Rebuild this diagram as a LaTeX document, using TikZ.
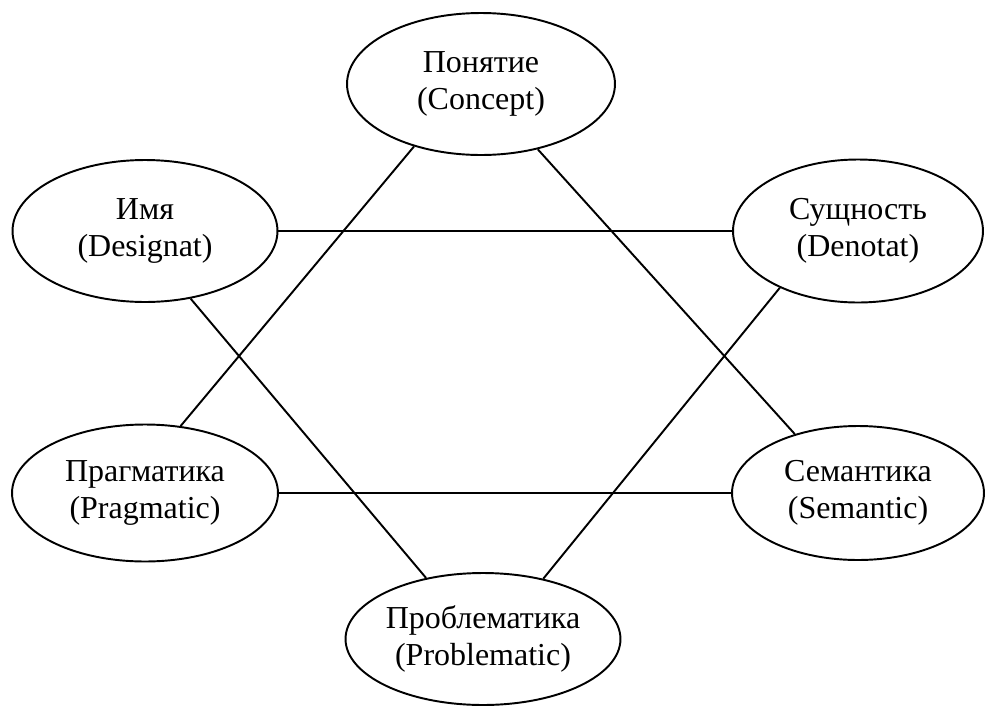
\documentclass[tikz,border=0pt]{standalone}
\usepackage{fontspec}
\setmainfont{Liberation Serif}
\usetikzlibrary{shapes.geometric}

\begin{document}
\begin{tikzpicture}[x=0.02cm, y=-0.02cm,
  term/.style={draw, ellipse, line width=1.1pt, inner sep=0pt, align=center,
    font=\fontsize{18.2}{21}\selectfont},
  link/.style={line width=1.1pt}]
\useasboundingbox (0,0) rectangle (985,707);
% the six notions
\node[term, minimum width=5.36cm, minimum height=2.84cm] (concept) at (481,84) {Понятие\\(Concept)};
\node[term, minimum width=5.30cm, minimum height=2.84cm] (designat) at (145,231) {Имя\\(Designat)};
\node[term, minimum width=5.00cm, minimum height=2.86cm] (denotat) at (858,231) {Сущность\\(Denotat)};
\node[term, minimum width=5.32cm, minimum height=2.74cm] (pragmatic) at (145,493) {Прагматика\\(Pragmatic)};
\node[term, minimum width=5.04cm, minimum height=2.68cm] (semantic) at (858,493) {Семантика\\(Semantic)};
\node[term, minimum width=5.44cm, minimum height=2.64cm] (problematic) at (483,639) {Проблематика\\(Problematic)};
% horizontal links
\draw[link] (designat.east) -- (denotat.west);
\draw[link] (pragmatic.east) -- (semantic.west);
% crossing links
\draw[link] (concept.223) -- (pragmatic.62);
\draw[link] (concept.311) -- (semantic.137);
\draw[link] (designat.304) -- (problematic.133);
\draw[link] (denotat.216) -- (problematic.45);
\end{tikzpicture}
\end{document}
